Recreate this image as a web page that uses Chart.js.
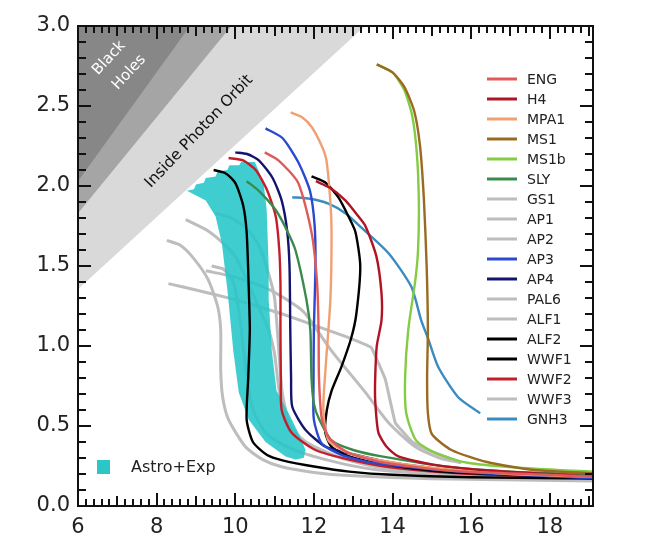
<!DOCTYPE html>
<html>
<head>
<title>Mass-Radius</title>
<script src="https://cdn.jsdelivr.net/npm/chart.js@4/dist/chart.umd.min.js"></script>
<style>body{margin:0;background:#fff;}</style>
</head>
<body>
<canvas id="mr" width="651" height="559"></canvas>

<script>
// axis ticks
var xTicks = [6, 8, 10, 12, 14, 16, 18];
var yTicks = [0, 0.5, 1.0, 1.5, 2.0, 2.5, 3.0];

// shaded regions (edge lines, filled up to M=3)
var BH_EDGE = [[6, 2.03], [8.85, 3]];
var BUCH_EDGE = [[6, 1.83], [9.9, 3]];
var PHOTON_EDGE = [[6, 1.355], [13.3, 3]];

// Astro+Exp band outline
var ASTRO = [[8.77,1.97],[8.95,1.98],[9.0,2.01],[9.2,2.02],[9.25,2.05],[9.5,2.06],[9.55,2.09],[9.8,2.1],[9.85,2.13],[10.1,2.13],[10.15,2.15],[10.5,2.15],
  [10.72,2.02],[10.8,1.85],[10.85,1.5],[10.85,1.29],[10.93,0.97],[11.05,0.72],[11.36,0.58],[11.6,0.46],[11.79,0.35],[11.74,0.3],
  [11.53,0.29],[11.28,0.31],[10.77,0.4],[10.34,0.54],[10.09,0.71],[9.95,0.97],[9.88,1.15],[9.8,1.35],[9.66,1.64],[9.5,1.81],[9.25,1.91]];

// M-R curves [R km, M Msun]
var ENG = [[10.75,2.21],[11.1,2.16],[11.6,2.02],[11.94,1.71],[12.08,1.4],[12.12,1.1],[12.13,0.8],[12.2,0.55],[12.4,0.42],[12.9,0.33],[13.8,0.27],[15.5,0.22],[19.5,0.18]];
var H4 = [[12.05,2.03],[12.4,1.99],[12.8,1.91],[13.1,1.82],[13.31,1.75],[13.59,1.56],[13.72,1.33],[13.72,1.16],[13.6,1.0],[13.56,0.8],[13.56,0.66],[13.64,0.46],[13.85,0.37],[14.15,0.31],[15.0,0.26],[16.5,0.22],[19.5,0.18]];
var MPA1 = [[11.41,2.46],[11.7,2.43],[11.94,2.37],[12.2,2.25],[12.32,2.16],[12.42,1.9],[12.45,1.71],[12.42,1.29],[12.3,0.87],[12.24,0.6],[12.37,0.41],[12.8,0.34],[13.6,0.29],[15,0.24],[17,0.2],[19.5,0.18]];
var MS1 = [[13.6,2.76],[14.0,2.71],[14.3,2.62],[14.55,2.47],[14.7,2.25],[14.8,1.91],[14.87,1.49],[14.9,1.1],[14.88,0.8],[14.9,0.58],[15.0,0.45],[15.5,0.35],[16.4,0.275],[17.6,0.225],[19.5,0.2]];
var MS1b = [[13.6,2.76],[14.0,2.71],[14.3,2.6],[14.5,2.44],[14.62,2.2],[14.67,1.9],[14.65,1.6],[14.58,1.41],[14.4,1.1],[14.32,0.8],[14.35,0.58],[14.6,0.41],[15.1,0.33],[15.9,0.27],[17.2,0.24],[19.5,0.21]];
var SLY = [[10.29,2.03],[10.6,1.97],[11.03,1.85],[11.3,1.73],[11.53,1.6],[11.81,1.29],[11.91,1.1],[11.94,0.8],[12.0,0.64],[12.12,0.55],[12.45,0.41],[13.0,0.35],[13.72,0.31],[15.4,0.245],[17,0.215],[19.5,0.195]];
var GS1 = [[8.3,1.39],[9.0,1.35],[10.0,1.29],[11.2,1.2],[12.12,1.12],[12.8,1.06],[13.46,0.99],[13.82,0.79],[14.07,0.52],[14.5,0.4],[14.9,0.35],[15.75,0.27]];
var AP1 = [[8.26,1.66],[8.6,1.63],[8.9,1.56],[9.3,1.42],[9.55,1.25],[9.63,1.1],[9.63,0.85],[9.68,0.68],[9.83,0.54],[10.26,0.37],[10.7,0.29],[11.18,0.245],[12.0,0.21],[12.88,0.19],[15,0.17],[19.5,0.155]];
var AP2 = [[8.74,1.79],[9.3,1.72],[9.7,1.64],[10.0,1.56],[10.34,1.39],[10.6,1.24],[10.85,1.1],[11.0,0.95],[11.1,0.75],[11.25,0.55],[11.6,0.42],[12.3,0.33],[13.5,0.25],[16,0.19],[19.5,0.16]];
var AP3 = [[10.77,2.36],[11.2,2.3],[11.6,2.15],[11.9,1.97],[12.02,1.75],[12.04,1.5],[12.0,1.1],[11.99,0.75],[12.0,0.54],[12.2,0.39],[12.7,0.32],[13.5,0.27],[15,0.23],[16.4,0.205],[19.5,0.17]];
var AP4 = [[10.0,2.21],[10.3,2.2],[10.6,2.16],[10.95,2.05],[11.18,1.91],[11.32,1.72],[11.38,1.5],[11.4,1.1],[11.42,0.8],[11.45,0.62],[11.79,0.475],[12.3,0.37],[12.88,0.33],[14,0.27],[16,0.21],[19.5,0.17]];
var PAL6 = [[9.25,1.47],[10.0,1.43],[10.8,1.36],[11.5,1.26],[11.79,1.2],[12.45,0.97],[13.31,0.71],[13.9,0.52],[14.58,0.37],[15.2,0.3],[15.75,0.27]];
var ALF1 = [[9.4,1.5],[9.7,1.48],[9.95,1.4],[10.1,1.2],[10.2,1.0],[10.3,0.8],[10.45,0.6],[10.8,0.45],[11.4,0.36],[12.3,0.29],[13.5,0.23],[16,0.185],[19.5,0.16]];
var ALF2 = [[11.94,2.06],[12.3,2.02],[12.62,1.93],[12.9,1.8],[13.06,1.71],[13.18,1.5],[13.08,1.2],[12.95,1.05],[12.7,0.87],[12.45,0.72],[12.33,0.6],[12.29,0.46],[12.45,0.37],[12.9,0.31],[13.8,0.26],[15.5,0.21],[19.5,0.175]];
var WWF1 = [[9.45,2.1],[9.75,2.08],[10.0,2.02],[10.2,1.88],[10.29,1.71],[10.34,1.39],[10.37,1.1],[10.33,0.8],[10.29,0.54],[10.45,0.4],[10.8,0.32],[11.2,0.285],[12.04,0.245],[12.9,0.215],[14,0.195],[16,0.18],[19.5,0.17]];
var WWF2 = [[9.83,2.175],[10.2,2.16],[10.52,2.1],[10.8,1.98],[11.03,1.81],[11.12,1.6],[11.15,1.39],[11.15,1.1],[11.16,0.8],[11.18,0.6],[11.43,0.46],[12.04,0.35],[12.9,0.29],[14,0.24],[16,0.2],[19.5,0.17]];
var WWF3 = [[9.5,1.83],[9.9,1.8],[10.3,1.73],[10.6,1.63],[10.85,1.45],[11.0,1.3],[11.1,1.0],[11.2,0.7],[11.4,0.5],[11.8,0.4],[12.6,0.31],[14,0.23],[16.5,0.185],[19.5,0.16]];
var GNH3 = [[11.45,1.93],[11.9,1.92],[12.37,1.89],[12.8,1.83],[13.21,1.74],[13.9,1.58],[14.48,1.37],[14.73,1.16],[14.9,1.05],[15.16,0.87],[15.67,0.68],[16.23,0.58]];

var GRAY = '#bdbdbd';
var eos = [
  {name:'ENG', pts:ENG, color:'#e05a5a'},
  {name:'H4', pts:H4, color:'#b01424'},
  {name:'MPA1', pts:MPA1, color:'#f0a072'},
  {name:'MS1', pts:MS1, color:'#9a6a22'},
  {name:'MS1b', pts:MS1b, color:'#84cc44'},
  {name:'SLY', pts:SLY, color:'#3a8a4c'},
  {name:'GS1', pts:GS1, color:GRAY, tension:0.05},
  {name:'AP1', pts:AP1, color:GRAY},
  {name:'AP2', pts:AP2, color:GRAY},
  {name:'AP3', pts:AP3, color:'#2a48d0'},
  {name:'AP4', pts:AP4, color:'#141470'},
  {name:'PAL6', pts:PAL6, color:GRAY},
  {name:'ALF1', pts:ALF1, color:GRAY},
  {name:'ALF2', pts:ALF2, color:'#000000'},
  {name:'WWF1', pts:WWF1, color:'#000000'},
  {name:'WWF2', pts:WWF2, color:'#c41e2c'},
  {name:'WWF3', pts:WWF3, color:GRAY},
  {name:'GNH3', pts:GNH3, color:'#3a8cc0'}
];

function xy(a){ return a.map(function(p){ return {x:p[0], y:p[1]}; }); }

var datasets = [];
[[PHOTON_EDGE,'#d9d9d9',102],[BUCH_EDGE,'#a5a5a5',101],[BH_EDGE,'#878787',100]].forEach(function(r){
  datasets.push({data:xy(r[0]), borderWidth:0, borderColor:'rgba(0,0,0,0)', backgroundColor:r[1], fill:'end', pointRadius:0, order:r[2], tension:0});
});
datasets.push({data:xy(ASTRO), borderWidth:0, borderColor:'rgba(0,0,0,0)', backgroundColor:'rgba(38,198,200,0.88)', fill:'shape', pointRadius:0, order:40, tension:0});
eos.forEach(function(e){
  var g = e.color === GRAY;
  datasets.push({label:e.name, data:xy(e.pts), borderColor:e.color, borderWidth:g ? 3 : 2.4, fill:false,
    pointRadius:0, tension:e.tension === undefined ? 0.22 : e.tension, order:g ? 50 : 10});
});

// box with inward ticks on all four sides
function drawFrame(chart){
  var c = chart.ctx, a = chart.chartArea, xs = chart.scales.x, ys = chart.scales.y;
  c.save();
  c.fillStyle = '#111111';
  for (var i = 0; i <= 65; i++) {
    var v = 6 + i*0.2;
    var px = Math.round(xs.getPixelForValue(v));
    if (px > a.right) break;
    var n = Math.round(v*5);
    var k = n % 10 === 0 ? 13 : (n % 5 === 0 ? 10 : 7);
    c.fillRect(px - 1, a.bottom - k, 2, k);
    c.fillRect(px - 1, a.top, 2, k);
  }
  for (var j = 0; j <= 30; j++) {
    var py = Math.round(ys.getPixelForValue(j/10));
    var m = j % 5 === 0 ? 13 : 8;
    c.fillRect(a.left, py - 1, m, 2);
    c.fillRect(a.right - m, py - 1, m, 2);
  }
  c.strokeStyle = '#111111'; c.lineWidth = 2;
  c.strokeRect(a.left, a.top, a.right - a.left, a.bottom - a.top);
  c.restore();
}

var decor = {
  id:'decor',
  afterDatasetsDraw:function(chart){
    var c = chart.ctx, a = chart.chartArea, xs = chart.scales.x, ys = chart.scales.y;
    c.save();
    // region labels
    function rot(txt, R, M, ang, font, col){
      c.save();
      c.translate(xs.getPixelForValue(R), ys.getPixelForValue(M));
      c.rotate(-ang*Math.PI/180);
      c.font = font; c.fillStyle = col; c.textAlign = 'center'; c.textBaseline = 'middle';
      c.fillText(txt, 0, 0);
      c.restore();
    }
    rot('Black', 6.79, 2.80, 47, '15px "DejaVu Sans"', '#ffffff');
    rot('Holes', 7.30, 2.71, 47, '15px "DejaVu Sans"', '#ffffff');
    rot('Inside Photon Orbit', 9.08, 2.34, 46.5, '15.5px "DejaVu Sans"', '#111111');
    // legend
    c.font = '14px "DejaVu Sans"'; c.textBaseline = 'middle'; c.textAlign = 'left';
    eos.forEach(function(e, i){
      var y = a.top + 53 + i*20;
      c.strokeStyle = e.color; c.lineWidth = 3;
      c.beginPath(); c.moveTo(a.right - 106, y); c.lineTo(a.right - 76, y); c.stroke();
      c.fillStyle = '#222'; c.fillText(e.name, a.right - 66, y + 1);
    });
    c.fillStyle = '#2cc6c8';
    c.fillRect(a.left + 19, a.bottom - 46, 13, 14);
    c.fillStyle = '#222'; c.font = '16px "DejaVu Sans"';
    c.fillText('Astro+Exp', a.left + 53, a.bottom - 38);
    c.restore();
    drawFrame(chart);
  }
};

var tickFont = {family:'"DejaVu Sans"', size:21};
new Chart(document.getElementById('mr'), {
  type:'line',
  data:{datasets:datasets},
  options:{
    responsive:false, animation:false, devicePixelRatio:1,
    layout:{padding:{top:26, right:58, left:0, bottom:0}},
    plugins:{legend:{display:false}, tooltip:{enabled:false}},
    scales:{
      x:{type:'linear', min:6, max:19.1,
        grid:{display:false, drawTicks:false}, border:{display:false},
        afterBuildTicks:function(s){ s.ticks = xTicks.map(function(v){ return {value:v}; }); },
        afterFit:function(s){ s.height = 53; },
        ticks:{font:tickFont, color:'#222', padding:9, maxRotation:0, callback:function(v){ return String(v); }}},
      y:{type:'linear', min:0, max:3,
        grid:{display:false, drawTicks:false}, border:{display:false},
        afterBuildTicks:function(s){ s.ticks = yTicks.map(function(v){ return {value:v}; }); },
        afterFit:function(s){ s.width = 78; },
        ticks:{font:tickFont, color:'#222', padding:8, callback:function(v){ return Number(v).toFixed(1); }}}
    }
  },
  plugins:[decor]
});
</script>
</body>
</html>
